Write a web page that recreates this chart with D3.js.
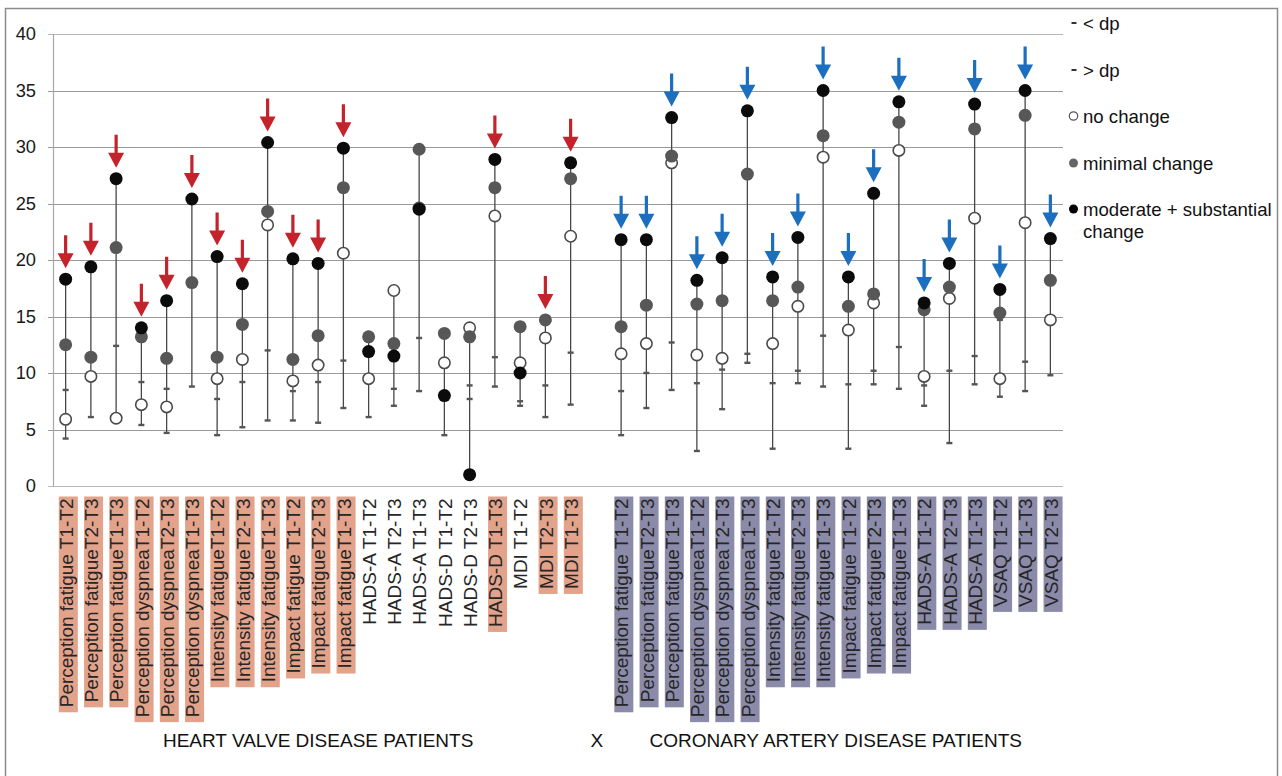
<!DOCTYPE html>
<html><head><meta charset="utf-8">
<script src="https://cdn.jsdelivr.net/npm/d3@7"></script>
<style>
body{margin:0;background:#fff}
svg{display:block}
text{font-family:"Liberation Sans",Arial,Helvetica,sans-serif}
</style>
</head><body>
<svg id="chart" width="1282" height="776"></svg>
<script>
// ---------- DATA ----------
const categories = [
  "Perception fatigue T1-T2","Perception fatigueT2-T3","Perception fatigueT1-T3",
  "Perception dyspneaT1-T2","Perception dyspneaT2-T3","Perception dyspneaT1-T3",
  "Intensity fatigueT1-T2","Intensity fatigueT2-T3","Intensity fatigueT1-T3",
  "Impact fatigue T1-T2","Impact fatigueT2-T3","Impact fatigueT1-T3",
  "HADS-A T1-T2","HADS-A T2-T3","HADS-A T1-T3",
  "HADS-D T1-T2","HADS-D T2-T3","HADS-D T1-T3",
  "MDI T1-T2","MDI T2-T3","MDI T1-T3",
  "",
  "Perception fatigue T1-T2","Perception fatigueT2-T3","Perception fatigueT1-T3",
  "Perception dyspneaT1-T2","Perception dyspneaT2-T3","Perception dyspneaT1-T3",
  "Intensity fatigueT1-T2","Intensity fatigueT2-T3","Intensity fatigueT1-T3",
  "Impact fatigue T1-T2","Impact fatigueT2-T3","Impact fatigueT1-T3",
  "HADS-A T1-T2","HADS-A T2-T3","HADS-A T1-T3",
  "VSAQ T1-T2","VSAQ T1-T3","VSAQ T2-T3"
];
const groups = [
  "HVD","HVD","HVD","HVD","HVD","HVD","HVD","HVD","HVD","HVD","HVD","HVD",
  "HVD","HVD","HVD","HVD","HVD","HVD","HVD","HVD","HVD",
  "",
  "CAD","CAD","CAD","CAD","CAD","CAD","CAD","CAD","CAD","CAD","CAD","CAD",
  "CAD","CAD","CAD","CAD","CAD","CAD"
];
const highlighted = [
  1,1,1,1,1,1,1,1,1,1,1,1, 0,0,0,0,0,1,0,1,1,
  0,
  1,1,1,1,1,1,1,1,1,1,1,1,1,1,1,1,1,1
];
const arrowFlags = [
  1,1,1,1,1,1,1,1,1,1,1,1, 0,0,0,0,0,1,0,1,1,
  0,
  1,1,1,1,1,1,1,1,1,1,1,1,1,1,1,1,1,1
];
const noChange = [
  5.9, 9.7, 6.0, 7.2, 7.0, null, 9.5, 11.2, 23.1, 9.3, 10.7, 20.6,
  9.5, 17.3, 24.6, 10.9, 14.0, 23.9, 10.9, 13.1, 22.1,
  null,
  11.7, 12.6, 28.6, 11.6, 11.3, null, 12.6, 15.9, 29.1, 13.8, 16.2, 29.7,
  9.7, 16.6, 23.7, 9.5, 23.3, 14.7
];
const minimalChange = [
  12.5, 11.4, 21.1, 13.2, 11.3, 18.0, 11.4, 14.3, 24.3, 11.2, 13.3, 26.4,
  13.2, 12.6, 29.8, 13.5, 13.2, 26.4, 14.1, 14.7, 27.2,
  null,
  14.1, 16.0, 29.2, 16.1, 16.4, 27.6, 16.4, 17.6, 31.0, 15.9, 17.0, 32.2,
  15.6, 17.6, 31.6, 15.3, 32.8, 18.2
];
const moderateChange = [
  18.3, 19.4, 27.2, 14.0, 16.4, 25.4, 20.3, 17.9, 30.4, 20.1, 19.7, 29.9,
  11.9, 11.5, 24.5, 8.0, 1.0, 28.9, 10.0, null, 28.6,
  null,
  21.8, 21.8, 32.6, 18.2, 20.2, 33.2, 18.5, 22.0, 35.0, 18.5, 25.9, 34.0,
  16.2, 19.7, 33.8, 17.4, 35.0, 21.9
];
const dpLess = [
  4.2, 6.1, null, 5.4, 4.7, 8.8, 4.5, 5.2, 5.8, 5.8, 5.6, 6.9,
  6.1, 7.1, 8.4, 4.5, 7.7, 8.8, 7.1, 6.1, 7.2,
  null,
  4.5, 6.9, 8.5, 3.1, 6.8, 10.9, 3.3, 9.1, 8.8, 3.3, 9.0, 8.6,
  7.1, 3.8, 9.0, 7.9, 8.4, 9.8
];
const dpMore = [
  8.5, null, 12.4, 9.2, 8.6, null, 7.7, 9.2, 12.0, 8.4, 9.2, 11.1,
  null, 8.6, 13.1, null, 8.9, 11.4, 7.5, 8.9, 11.8,
  null,
  8.4, 10.0, 12.7, 9.1, 10.3, 11.7, 9.1, 10.2, 13.3, 9.0, 10.2, 12.3,
  8.9, 10.2, 11.5, 14.7, 11.0, null
];
const yTicks = [0, 5, 10, 15, 20, 25, 30, 35, 40];
const groupTitles = ["HEART VALVE DISEASE PATIENTS", "X", "CORONARY ARTERY DISEASE PATIENTS"];
const legendLabels = ["< dp", "> dp", "no change", "minimal change", "moderate + substantial", "change"];

// ---------- LAYOUT ----------
const svg = d3.select("#chart");
const W = 1282, H = 776;
const plot = {left: 53, right: 1063, top: 34, bottom: 486};
const font = '"Liberation Sans", Arial, sans-serif';

svg.append("rect").attr("x", 0).attr("y", 0).attr("width", W).attr("height", H).attr("fill", "#fff");
svg.append("rect").attr("x", 5.5).attr("y", 8.5).attr("width", 1272).attr("height", 800)
  .attr("fill", "none").attr("stroke", "#8c8c8c").attr("stroke-width", 1.5);

const idx = d3.range(categories.length);
const x = d3.scaleBand().domain(idx).range([plot.left, plot.right]).padding(0);
const cx = i => x(i) + x.bandwidth() / 2;
const y = d3.scaleLinear().domain([0, 40]).range([plot.bottom, plot.top]);

// gridlines
const grid = svg.append("g");
grid.selectAll("line").data(yTicks).join("line")
  .attr("x1", plot.left - 5).attr("x2", plot.right)
  .attr("y1", d => Math.round(y(d)) + 0.5).attr("y2", d => Math.round(y(d)) + 0.5)
  .attr("stroke", d => (d === 0 || d === 40) ? "#b8b8b8" : "#9a9a9a").attr("stroke-width", 1.2);

// y axis line
svg.append("line").attr("x1", plot.left + 0.5).attr("x2", plot.left + 0.5)
  .attr("y1", plot.top).attr("y2", plot.bottom).attr("stroke", "#a8a8a8").attr("stroke-width", 1.2);

// y axis labels via d3 axis
const yAxis = d3.axisLeft(y).tickValues(yTicks).tickSize(0).tickPadding(17);
const ya = svg.append("g").attr("transform", `translate(${plot.left},0)`).call(yAxis);
ya.select(".domain").remove();
ya.selectAll("text").attr("font-size", 18.3).attr("fill", "#1a1a1a").attr("font-family", font);

// ---------- MARKS ----------
const marks = svg.append("g");
idx.forEach(i => {
  const vals = [noChange[i], minimalChange[i], moderateChange[i], dpLess[i], dpMore[i]].filter(v => v != null);
  if (!vals.length) return;
  const lo = d3.min(vals), hi = d3.max(vals);
  marks.append("line").attr("x1", cx(i)).attr("x2", cx(i))
    .attr("y1", y(lo)).attr("y2", y(hi)).attr("stroke", "#474747").attr("stroke-width", 1.3);
});
// dp ticks
[dpLess, dpMore].forEach(arr => {
  marks.append("g").selectAll("rect").data(idx.filter(i => arr[i] != null)).join("rect")
    .attr("x", i => cx(i) - 3).attr("y", i => y(arr[i]) - 1.2)
    .attr("width", 6).attr("height", 2.4).attr("fill", "#555");
});
// circles
marks.append("g").selectAll("circle").data(idx.filter(i => noChange[i] != null)).join("circle")
  .attr("cx", cx).attr("cy", i => y(noChange[i])).attr("r", 5.7)
  .attr("fill", "#fff").attr("stroke", "#4a4a4a").attr("stroke-width", 1.6);
marks.append("g").selectAll("circle").data(idx.filter(i => minimalChange[i] != null)).join("circle")
  .attr("cx", cx).attr("cy", i => y(minimalChange[i])).attr("r", 6.5).attr("fill", "#575757");
marks.append("g").selectAll("circle").data(idx.filter(i => moderateChange[i] != null)).join("circle")
  .attr("cx", cx).attr("cy", i => y(moderateChange[i])).attr("r", 6.5).attr("fill", "#0b0b0b");

// arrows
const arrowG = svg.append("g");
idx.filter(i => arrowFlags[i]).forEach(i => {
  const top = d3.max([noChange[i], minimalChange[i], moderateChange[i]].filter(v => v != null));
  const tip = y(top) - 11;
  const c = groups[i] === "HVD" ? "#c4232b" : "#1b6fbe";
  const xc = cx(i);
  const headH = 15, half = 8, shaftW = 3.2, total = 33;
  const p = [
    [xc - shaftW / 2, tip - total], [xc + shaftW / 2, tip - total],
    [xc + shaftW / 2, tip - headH], [xc + half, tip - headH],
    [xc, tip], [xc - half, tip - headH], [xc - shaftW / 2, tip - headH]
  ];
  arrowG.append("path").attr("d", d3.line()(p) + "Z").attr("fill", c);
});

// ---------- CATEGORY LABELS ----------
const labG = svg.append("g");
idx.forEach(i => {
  if (!categories[i]) return;
  const bx = cx(i) + 7.3, by = 498.5;
  const g = labG.append("g");
  const t = g.append("text")
    .attr("transform", `translate(${bx},${by}) rotate(-90)`)
    .attr("text-anchor", "end").attr("font-size", 19).attr("fill", "#262626")
    .text(categories[i]);
  if (highlighted[i]) {
    const len = t.node().getComputedTextLength();
    g.insert("rect", "text")
      .attr("x", cx(i) - 6.8).attr("y", by - 2)
      .attr("width", 19).attr("height", len + 7)
      .attr("fill", groups[i] === "HVD" ? "#e3a28a" : "#8b8ba9");
  }
});

// group titles
const hvdIdx = idx.filter(i => groups[i] === "HVD");
const cadIdx = idx.filter(i => groups[i] === "CAD");
const gapIdx = idx.filter(i => groups[i] === "");
const titleX = [
  (cx(hvdIdx[0]) + cx(hvdIdx[hvdIdx.length - 1])) / 2,
  cx(gapIdx[0]) + 1,
  (cx(cadIdx[0]) + cx(cadIdx[cadIdx.length - 1])) / 2
];
svg.append("g").selectAll("text").data(groupTitles).join("text")
  .attr("x", (d, k) => titleX[k]).attr("y", 746.5)
  .attr("text-anchor", "middle").attr("font-size", 19).attr("fill", "#111")
  .text(d => d);

// ---------- LEGEND ----------
const lg = svg.append("g");
const lx = 1073.5, tx = 1083;
const rows = [23, 70, 116, 163, 209];
lg.append("rect").attr("x", lx - 2).attr("y", rows[0] - 1).attr("width", 5).attr("height", 2).attr("fill", "#333");
lg.append("rect").attr("x", lx - 2).attr("y", rows[1] - 1).attr("width", 5).attr("height", 2).attr("fill", "#333");
lg.append("circle").attr("cx", lx).attr("cy", rows[2]).attr("r", 4.2).attr("fill", "#fff").attr("stroke", "#555").attr("stroke-width", 1.2);
lg.append("circle").attr("cx", lx).attr("cy", rows[3]).attr("r", 4.5).attr("fill", "#666");
lg.append("circle").attr("cx", lx).attr("cy", rows[4]).attr("r", 4.5).attr("fill", "#000");
const legendY = [rows[0], rows[1], rows[2], rows[3], rows[4], rows[4] + 22];
lg.selectAll("text").data(legendLabels).join("text")
  .attr("x", tx).attr("y", (d, k) => legendY[k] + 6.5)
  .attr("font-size", 18.6).attr("fill", "#111").text(d => d);
</script>
</body></html>
